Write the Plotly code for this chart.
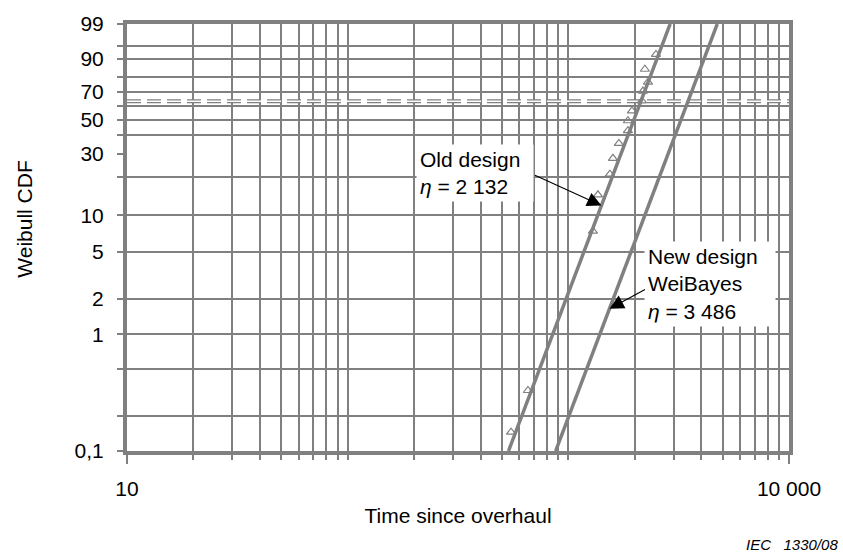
import numpy as np
import plotly.graph_objects as go

# Weibull parameters
beta = 5.0
old_eta = 2132
new_eta = 3486

# Old design failure data (hours, median-rank CDF in %)
failure_hours = [550, 656, 1292, 1362, 1543, 1593, 1695, 1862, 1862, 1942,
                 2155, 2178, 2295, 2223, 2495]
failure_cdf_pct = [0.145, 0.33, 7.4, 14.6, 21.1, 27.7, 35.3, 42.9, 49.4, 56.3,
                   63.5, 70.6, 76.8, 84.8, 92.0]

# Probability-paper scale
cdf_labels_pct = [0.1, 1, 2, 5, 10, 30, 50, 70, 90, 99]
cdf_label_text = ["0,1", "1", "2", "5", "10", "30", "50", "70", "90", "99"]
cdf_grid_pct = [0.1, 0.2, 0.5, 1, 2, 5, 10, 20, 40, 50, 60, 70, 80, 90, 95, 99]
line_span_pct = [0.1, 99]

time_major = [10, 50, 100, 500, 1000, 5000, 10000]
time_major_text = ["10", "", "", "", "", "", "10 000"]
time_minor = [m * 10 ** k for k in (1, 2, 3) for m in range(1, 10)] + [10000]

GRAY = "#808080"
FONT = "Liberation Sans, Arial, sans-serif"


def wz(pct):
    """Weibull probability-paper ordinate: ln(-ln(1-F))."""
    F = np.asarray(pct, dtype=float) / 100.0
    return np.log(-np.log(1.0 - F))


def weibull_time(eta, pct):
    F = np.asarray(pct, dtype=float) / 100.0
    return eta * (-np.log(1.0 - F)) ** (1.0 / beta)


fig = go.Figure()

# characteristic-life level (63.2 %) drawn as a double dashed rule
fig.add_trace(go.Scatter(x=[10, 10000], y=[0, 0], mode="lines",
                         line=dict(color=GRAY, width=4, dash="14px,6px"),
                         hoverinfo="skip", showlegend=False))
fig.add_trace(go.Scatter(x=[10, 10000], y=[0, 0], mode="lines",
                         line=dict(color="white", width=1.4, dash="14px,6px"),
                         hoverinfo="skip", showlegend=False))

# fitted Weibull lines
for eta in (old_eta, new_eta):
    fig.add_trace(go.Scatter(x=weibull_time(eta, line_span_pct), y=wz(line_span_pct),
                             mode="lines", line=dict(color=GRAY, width=3.5),
                             hoverinfo="skip", showlegend=False))

# old design failures
fig.add_trace(go.Scatter(x=failure_hours, y=wz(failure_cdf_pct), mode="markers",
                         marker=dict(symbol="triangle-up-open", size=8,
                                     color=GRAY, line=dict(width=1.2, color=GRAY)),
                         showlegend=False))


def px_x(px):
    return (px - 127) / 662.0


def px_y(py):
    return (451 - py) / 432.0


# label boxes
fig.add_annotation(xref="paper", yref="paper", x=px_x(416), y=px_y(140),
                   xanchor="left", yanchor="top", align="left",
                   text="Old design<br><i>η</i> = 2 132",
                   showarrow=False, bgcolor="white", borderpad=3, width=110,
                   font=dict(family=FONT, size=21, color="black"))
fig.add_annotation(xref="paper", yref="paper", x=px_x(644), y=px_y(239),
                   xanchor="left", yanchor="top", align="left",
                   text="New design<br>WeiBayes<br><i>η</i> = 3 486",
                   showarrow=False, bgcolor="white", borderpad=3, width=124,
                   font=dict(family=FONT, size=21, color="black"))

# arrows pointing at the lines
old_tip_pct = 12.0
new_tip_pct = 1.65
fig.add_annotation(x=np.log10(weibull_time(old_eta, old_tip_pct)), y=float(wz(old_tip_pct)),
                   xref="x", yref="y", text="", showarrow=True,
                   ax=-68, ay=-31, arrowhead=2, arrowsize=2.6, arrowwidth=1.1,
                   arrowcolor="black", standoff=0)
fig.add_annotation(x=np.log10(weibull_time(new_eta, new_tip_pct)), y=float(wz(new_tip_pct)),
                   xref="x", yref="y", text="", showarrow=True,
                   ax=37, ay=-20, arrowhead=2, arrowsize=2.6, arrowwidth=1.1,
                   arrowcolor="black", standoff=0)

# vertical axis title
fig.add_annotation(xref="paper", yref="paper", x=px_x(25), y=px_y(217),
                   xanchor="center", yanchor="middle", showarrow=False,
                   textangle=-90, text="Weibull CDF",
                   font=dict(family=FONT, size=21, color="black"))

# figure reference
fig.add_annotation(xref="paper", yref="paper", x=px_x(840), y=px_y(546),
                   xanchor="right", yanchor="middle", showarrow=False,
                   text="IEC\u00a0\u00a0\u00a01330/08",
                   font=dict(family=FONT, size=15, color="black", style="italic"))

fig.update_xaxes(type="log", range=[1, 4],
                 tickmode="array", tickvals=time_major, ticktext=time_major_text,
                 ticks="outside", ticklen=9, tickwidth=1.5, tickcolor=GRAY,
                 showgrid=True, gridcolor=GRAY, gridwidth=1.6,
                 minor=dict(tickmode="array", tickvals=time_minor, ticks="outside",
                            ticklen=5, tickwidth=1.5, tickcolor=GRAY,
                            showgrid=True, gridcolor=GRAY, gridwidth=1.6),
                 showline=True, mirror=True, linewidth=4, linecolor=GRAY,
                 zeroline=False, ticklabelstandoff=7,
                 tickfont=dict(family=FONT, size=21, color="black"),
                 title=dict(text="Time since overhaul", standoff=10,
                            font=dict(family=FONT, size=21, color="black")))

fig.update_yaxes(range=[float(wz(0.1)), float(wz(99))],
                 tickmode="array", tickvals=wz(cdf_labels_pct).tolist(),
                 ticktext=cdf_label_text,
                 ticks="outside", ticklen=6, tickwidth=1.5, tickcolor=GRAY,
                 showgrid=False,
                 minor=dict(tickmode="array", tickvals=wz(cdf_grid_pct).tolist(),
                            ticks="outside", ticklen=6, tickwidth=1.5, tickcolor=GRAY,
                            showgrid=True, gridcolor=GRAY, gridwidth=1.6),
                 showline=True, mirror=True, linewidth=4, linecolor=GRAY,
                 zeroline=False, ticklabelstandoff=9,
                 tickfont=dict(family=FONT, size=21, color="black"))

fig.update_layout(width=843, height=556,
                  margin=dict(l=127, r=54, t=19, b=105),
                  paper_bgcolor="white", plot_bgcolor="white",
                  showlegend=False)

fig.write_html("out.html")
